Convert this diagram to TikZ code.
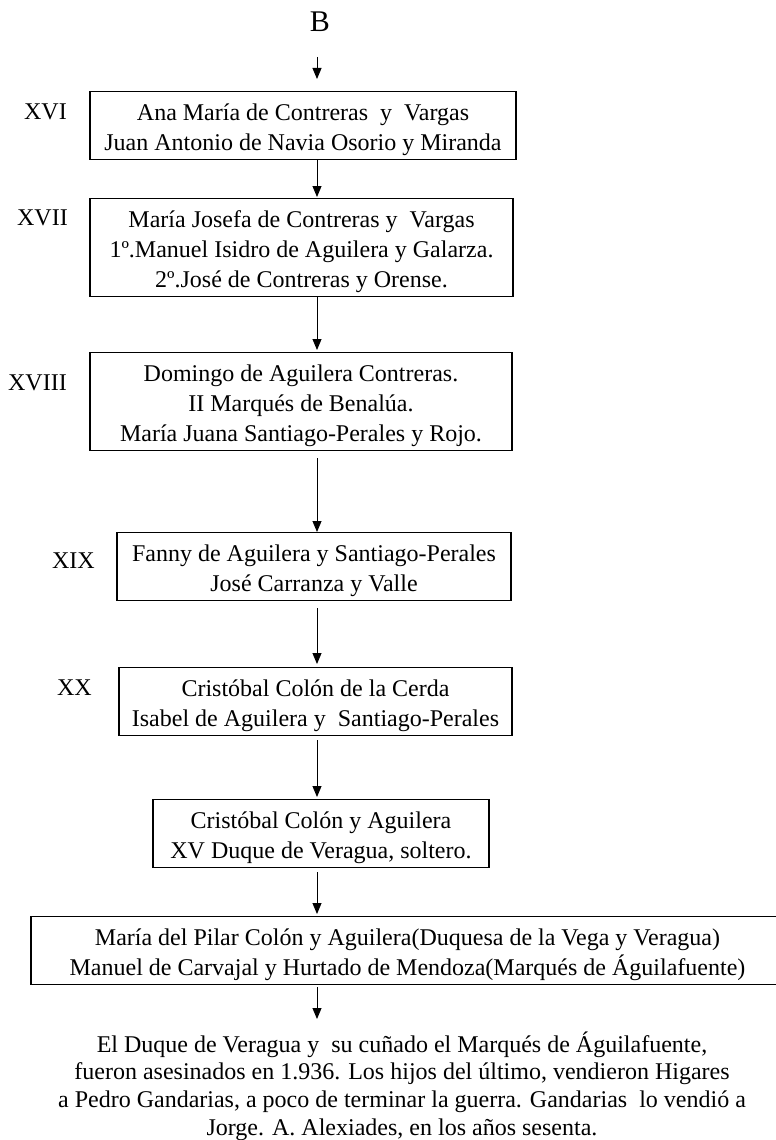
\documentclass[tikz,border=0pt]{standalone}
\usepackage{fontspec}
\setmainfont{Liberation Serif}
\usetikzlibrary{arrows.meta}
\newcommand{\arriba}{\rule{0pt}{29pt}}
\newcommand{\abajo}{\rule[-9pt]{0pt}{9pt}}
\tikzset{
  caja/.style={draw, line width=1.1pt, inner sep=0pt, align=center, anchor=north, font=\fontsize{24}{30}\selectfont},
  siglo/.style={anchor=base east, inner sep=0pt, font=\fontsize{24}{30}\selectfont},
  flecha/.style={-{Triangle[length=11pt, width=9pt]}, line width=0.9pt}
}
\begin{document}
\begin{tikzpicture}[x=1pt, y=-1pt]
\useasboundingbox (0,0) rectangle (776,1140);
\clip (0,0) rectangle (776,1140);
% Generaciones
\node[anchor=base, inner sep=0pt, font=\fontsize{30}{36}\selectfont] (B) at (320,31.7) {B};
\node[caja, minimum width=426pt] (ana) at (303,91) {\arriba Ana María de Contreras\ \ y\ \ Vargas\\Juan Antonio de Navia Osorio y Miranda\abajo};
\node[caja, minimum width=423pt] (josefa) at (301.5,198) {\arriba María Josefa de Contreras y\ \ Vargas\\1º.Manuel Isidro de Aguilera y Galarza.\\2º.José de Contreras y Orense.\abajo};
\node[caja, minimum width=422pt] (domingo) at (301,352) {\arriba Domingo de Aguilera Contreras.\\II Marqués de Benalúa.\\María Juana Santiago-Perales y Rojo.\abajo};
\node[caja, minimum width=394pt] (fanny) at (314,532) {\arriba Fanny de Aguilera y Santiago-Perales\\José Carranza y Valle\abajo};
\node[caja, minimum width=393pt] (isabel) at (315.5,667) {\arriba Cristóbal Colón de la Cerda\\Isabel de Aguilera y\ \ Santiago-Perales\abajo};
\node[caja, minimum width=336pt] (cristobal) at (321,799) {\arriba Cristóbal Colón y Aguilera\\XV Duque de Veragua, soltero.\abajo};
\node[caja, minimum width=753pt] (pilar) at (407.5,916) {\arriba María del Pilar Colón y Aguilera(Duquesa de la Vega y Veragua)\\Manuel de Carvajal y Hurtado de Mendoza(Marqués de Águilafuente)\abajo};
\node[anchor=north, inner sep=0pt, align=center, font=\fontsize{24}{27.6}\selectfont] (nota) at (402,1023) {\arriba El Duque de Veragua y\ \ su cuñado el Marqués de Águilafuente,\\fueron asesinados en 1.936. Los hijos del último, vendieron Higares\\a Pedro Gandarias, a poco de terminar la guerra. Gandarias\ \ lo vendió a\\Jorge. A. Alexiades, en los años sesenta.};
% Siglos
\node[siglo] (s16) at (67,119) {XVI};
\node[siglo] (s17) at (68,225) {XVII};
\node[siglo] (s18) at (67,390) {XVIII};
\node[siglo] (s19) at (95,568) {XIX};
\node[siglo] (s20) at (92,695) {XX};
% Flechas
\coordinate (eje) at (317,0);
\draw[flecha, shorten <=25pt, shorten >=12pt] (B.south -| eje) -- (ana.north -| eje);
\draw[flecha, shorten >=1pt] (ana.south -| eje) -- (josefa.north -| eje);
\draw[flecha, shorten >=2pt] (josefa.south -| eje) -- (domingo.north -| eje);
\draw[flecha, shorten <=7pt] (domingo.south -| eje) -- (fanny.north -| eje);
\draw[flecha, shorten <=7pt, shorten >=3pt] (fanny.south -| eje) -- (isabel.north -| eje);
\draw[flecha, shorten <=4pt, shorten >=2pt] (isabel.south -| eje) -- (cristobal.north -| eje);
\draw[flecha, shorten <=4pt, shorten >=2pt] (cristobal.south -| eje) -- (pilar.north -| eje);
\draw[flecha, shorten <=2pt, shorten >=4pt] (pilar.south -| eje) -- (nota.north -| eje);
\end{tikzpicture}
\end{document}
